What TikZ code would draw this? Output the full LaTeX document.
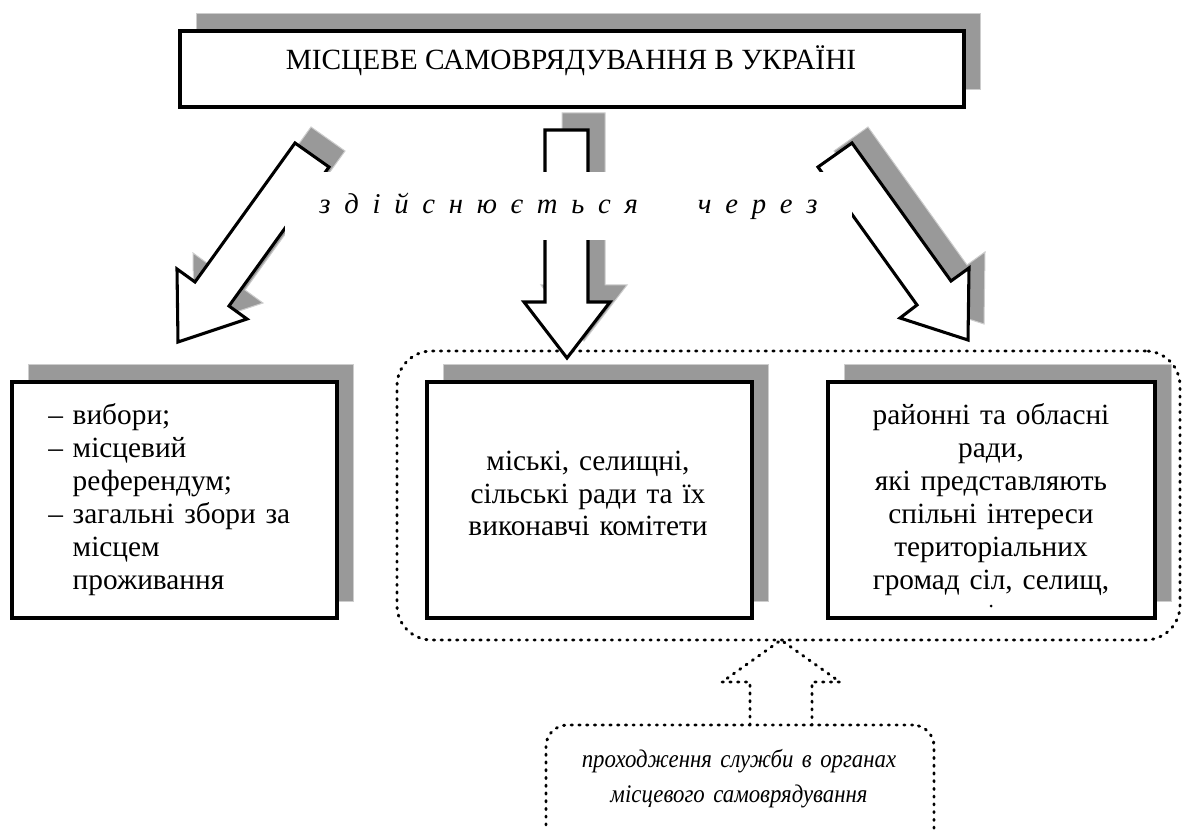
\documentclass[tikz,border=0pt]{standalone}
\usepackage{fontspec}
\setmainfont{Liberation Serif}
\newfontfamily\narrowserif{Liberation Serif}[FakeStretch=0.9]
\usetikzlibrary{shadows}
\definecolor{shadowgray}{RGB}{153,153,153}
\definecolor{shadowedge}{RGB}{205,205,205}
\newcommand\lgap{\hskip10.3pt}
\tikzset{
  txt/.style={inner sep=0pt, font=\fontsize{22pt}{24.75pt}\selectfont},
  itxt/.style={inner sep=0pt, font=\fontsize{21.5pt}{26.25pt}\selectfont\itshape},
  nitxt/.style={inner sep=0pt, font=\fontsize{19pt}{26.25pt}\narrowserif\itshape},
  boxshadow/.style={general shadow={fill=shadowgray, draw=shadowedge, line width=0.75pt,
      shadow xshift=12pt, shadow yshift=12.75pt}},
  framebox/.style={draw=black, fill=white, line width=3pt, inner sep=0pt, boxshadow},
  arrowshadow/.style={fill=shadowgray, draw=shadowedge, line width=0.75pt},
  blockarrow/.style={fill=white, draw=black, line width=2.3pt, line join=miter},
  dotline/.style={draw=black, line width=2.2pt, line cap=round, dash pattern=on 0.9pt off 4.9pt},
}
\begin{document}
\begin{tikzpicture}[x=0.75pt, y=-0.75pt]
\useasboundingbox (0,0) rectangle (1182,830);

% framed boxes with their drop shadows
\node (title) [framebox, line width=2.6pt, minimum width=784*0.75pt, minimum height=76*0.75pt] at (572,69) {};
\node (left)  [framebox, minimum width=325*0.75pt, minimum height=236*0.75pt] at (174.5,500) {};
\node (mid)   [framebox, minimum width=325*0.75pt, minimum height=236*0.75pt] at (589.5,500) {};
\node (right) [framebox, minimum width=327*0.75pt, minimum height=236*0.75pt] at (991.5,500) {};

% dotted frame around the councils
\node (group) [dotline, rounded corners=26pt, inner sep=0pt,
  minimum width=783*0.75pt, minimum height=289*0.75pt] at (788.5,495.5) {};

% block arrows: shadows first
\begin{scope}[shift={(16,-16)}]
  \path[arrowshadow] (295,143) -- (195,282) -- (177,269) -- (178,342) -- (247,319) -- (229,306) -- (329,167) -- cycle;
  \path[arrowshadow] (852,143) -- (951,281) -- (969,268) -- (968,340) -- (900,318) -- (917,305) -- (818,167) -- cycle;
\end{scope}
\begin{scope}[shift={(17,-17)}]
  \path[arrowshadow] (545,130) -- (545,302) -- (524,302) -- (567,358) -- (610,302) -- (588,302) -- (588,130) -- cycle;
\end{scope}
\path[blockarrow] (295,143) -- (195,282) -- (177,269) -- (178,342) -- (247,319) -- (229,306) -- (329,167) -- cycle;
\path[blockarrow] (545,130) -- (545,302) -- (524,302) -- (567,358) -- (610,302) -- (588,302) -- (588,130) -- cycle;
\path[blockarrow] (852,143) -- (951,281) -- (969,268) -- (968,340) -- (900,318) -- (917,305) -- (818,167) -- cycle;

% caption strip laid across the arrows
\node (via) [itxt, fill=white, minimum width=567*0.75pt, minimum height=68*0.75pt] at (568.5,206)
  {з\lgap д\lgap і\lgap й\lgap с\lgap н\lgap ю\lgap є\lgap т\lgap ь\lgap с\lgap я\hskip45pt ч\lgap е\lgap р\lgap е\lgap з};

% texts
\node (titletext) [txt, anchor=base] at (571,70) {МІСЦЕВЕ САМОВРЯДУВАННЯ В УКРАЇНІ};
\node (lefttext) [txt, anchor=base west, text width=285*0.75pt, align=left] at (48,425)
  {– вибори;\\– місцевий\\\hphantom{–\ }референдум;\\– загальні збори за\\\hphantom{–\ }місцем\\\hphantom{–\ }проживання};
\node (midtext) [txt, anchor=base, text width=300*0.75pt, align=center] at (588,470)
  {міські, селищні,\\сільські ради та їх\\виконавчі комітети};
\node (righttext) [txt, anchor=base, text width=300*0.75pt, align=center] at (991,425)
  {районні та обласні\\ради,\\які представляють\\спільні інтереси\\територіальних\\громад сіл, селищ,};
\fill (991,606) circle (1.5);

% service box and its dotted arrow
\node (service) [dotline, rounded corners=16pt, inner sep=0pt,
  minimum width=388*0.75pt, minimum height=125*0.75pt] at (740,787.5) {};
\draw[dotline] (750,725) -- (750,682) -- (722,682) -- (781,640) -- (840,682) -- (812,682) -- (812,725);
\node (servicetext) [nitxt, anchor=base, text width=370*0.75pt, align=center] at (739,767)
  {проходження служби в органах\\місцевого самоврядування};
\end{tikzpicture}
\end{document}
